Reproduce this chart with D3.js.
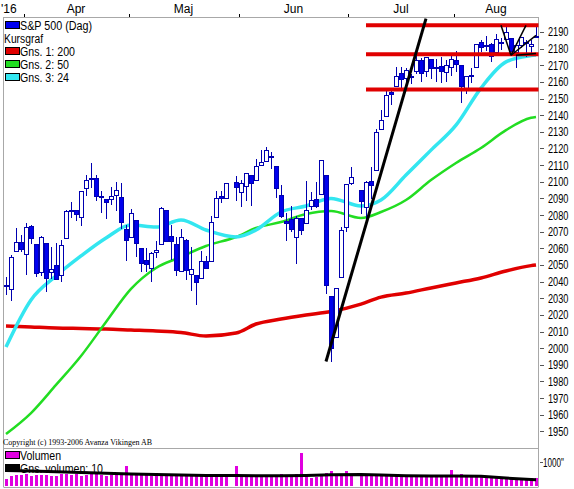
<!DOCTYPE html>
<html lang="sv">
<head>
<meta charset="UTF-8" />
<title>S&amp;P 500 (Dag)</title>
<script src="https://cdnjs.cloudflare.com/ajax/libs/d3/7.8.5/d3.min.js"></script>
<style>
  body { margin: 0; background: #fff; }
  svg text { font-family: "Liberation Sans", Arial, sans-serif; }
</style>
</head>
<body>
<svg width="574" height="489"></svg>
<script>
// daily candles, S&P 500, 2016
const dates = ['2016-03-28','2016-03-29','2016-03-30','2016-03-31',
  '2016-04-01','2016-04-04','2016-04-05','2016-04-06','2016-04-07','2016-04-08','2016-04-11','2016-04-12','2016-04-13','2016-04-14','2016-04-15',
  '2016-04-18','2016-04-19','2016-04-20','2016-04-21','2016-04-22','2016-04-25','2016-04-26','2016-04-27','2016-04-28','2016-04-29',
  '2016-05-02','2016-05-03','2016-05-04','2016-05-05','2016-05-06','2016-05-09','2016-05-10','2016-05-11','2016-05-12','2016-05-13',
  '2016-05-16','2016-05-17','2016-05-18','2016-05-19','2016-05-20','2016-05-23','2016-05-24','2016-05-25','2016-05-26','2016-05-27','2016-05-31',
  '2016-06-01','2016-06-02','2016-06-03','2016-06-06','2016-06-07','2016-06-08','2016-06-09','2016-06-10','2016-06-13','2016-06-14','2016-06-15',
  '2016-06-16','2016-06-17','2016-06-20','2016-06-21','2016-06-22','2016-06-23','2016-06-24','2016-06-27','2016-06-28','2016-06-29','2016-06-30',
  '2016-07-01','2016-07-05','2016-07-06','2016-07-07','2016-07-08','2016-07-11','2016-07-12','2016-07-13','2016-07-14','2016-07-15',
  '2016-07-18','2016-07-19','2016-07-20','2016-07-21','2016-07-22','2016-07-25','2016-07-26','2016-07-27','2016-07-28','2016-07-29',
  '2016-08-01','2016-08-02','2016-08-03','2016-08-04','2016-08-05','2016-08-08','2016-08-09','2016-08-10','2016-08-11','2016-08-12',
  '2016-08-15','2016-08-16','2016-08-17','2016-08-18','2016-08-19','2016-08-22','2016-08-23']
const open = [2037.9,2035.8,2058.3,2063.8,
  2056.6,2073.2,2062.5,2045.6,2063.0,2045.5,2050.2,2043.7,2065.9,2082.9,2083.1,
  2078.8,2096.1,2101.5,2102.1,2091.5,2089.4,2089.8,2092.3,2090.9,2071.8,
  2067.2,2077.2,2060.3,2053.0,2047.8,2057.6,2062.6,2083.3,2067.2,2062.5,
  2046.5,2065.0,2044.4,2044.2,2041.9,2052.2,2052.7,2078.9,2091.4,2090.1,2100.1,
  2093.9,2097.7,2104.1,2100.8,2110.2,2112.7,2115.7,2109.6,2091.8,2076.7,2077.6,
  2066.4,2078.2,2075.6,2085.2,2089.8,2092.8,2103.8,2031.5,2006.7,2042.7,2073.2,
  2099.3,2095.1,2084.4,2100.4,2107.0,2131.7,2139.5,2153.8,2157.9,2165.1,
  2162.0,2163.8,2166.1,2172.9,2166.5,2173.7,2169.0,2169.8,2166.1,2168.8,
  2173.2,2169.9,2156.8,2163.5,2168.8,2183.8,2182.2,2182.8,2178.0,2183.7,
  2186.1,2186.2,2177.8,2181.9,2184.2,2181.6,2187.8]
const high = [2042.7,2055.9,2072.2,2067.9,
  2075.1,2074.0,2062.5,2067.3,2063.0,2060.6,2062.9,2065.1,2083.2,2087.8,2083.2,
  2094.7,2104.1,2111.1,2103.8,2094.3,2089.4,2096.9,2099.9,2099.3,2073.9,
  2083.4,2077.2,2060.3,2060.2,2057.7,2064.2,2084.9,2083.3,2074.0,2066.8,
  2071.9,2065.7,2060.6,2044.2,2058.4,2055.6,2079.7,2094.7,2094.3,2099.1,2103.5,
  2101.0,2105.3,2104.1,2113.4,2119.2,2120.6,2117.6,2109.6,2098.1,2081.3,2085.7,
  2079.6,2078.2,2100.7,2093.7,2099.7,2113.3,2103.8,2031.5,2036.1,2073.1,2098.9,
  2108.7,2095.1,2100.7,2109.1,2131.7,2143.2,2155.4,2156.5,2169.0,2169.1,
  2168.4,2164.6,2175.6,2174.6,2175.1,2173.7,2173.5,2175.0,2172.9,2177.1,
  2178.3,2170.2,2163.8,2168.2,2182.9,2185.4,2187.7,2183.4,2188.5,2186.3,
  2193.8,2186.2,2183.1,2187.0,2185.0,2185.2,2193.4]
const low = [2032.0,2028.3,2058.3,2057.5,
  2044.0,2062.6,2042.6,2043.1,2033.8,2041.7,2041.9,2039.7,2065.9,2078.1,2076.3,
  2073.7,2091.7,2096.3,2088.5,2081.2,2077.5,2085.8,2082.3,2071.6,2052.3,
  2066.1,2054.9,2045.6,2045.8,2039.5,2054.3,2062.6,2064.5,2053.1,2043.1,
  2046.5,2040.8,2034.5,2025.9,2041.9,2047.3,2052.7,2078.9,2087.1,2090.1,2088.7,
  2085.1,2088.6,2085.4,2100.8,2110.2,2112.7,2107.7,2090.0,2078.5,2064.1,2069.8,
  2050.4,2068.1,2075.6,2083.0,2084.4,2092.8,2032.6,1991.7,2006.7,2042.7,2070.0,
  2097.9,2080.9,2074.0,2089.4,2107.0,2131.7,2139.5,2146.2,2157.9,2155.8,
  2159.1,2159.0,2164.9,2159.8,2163.2,2162.0,2160.2,2159.1,2159.7,2163.5,
  2166.2,2147.6,2153.0,2159.1,2168.8,2177.9,2178.6,2172.0,2178.0,2179.4,
  2186.1,2178.1,2168.5,2180.5,2175.1,2176.0,2186.8]
const close = [2037.1,2055.0,2064.0,2059.7,
  2072.8,2066.1,2045.2,2066.7,2041.9,2047.6,2042.0,2061.7,2082.4,2082.8,2080.7,
  2094.3,2100.8,2102.4,2091.5,2091.6,2087.8,2091.7,2095.2,2075.8,2065.3,
  2081.4,2063.4,2051.1,2050.6,2057.1,2058.7,2084.4,2064.5,2064.1,2046.6,
  2066.7,2047.2,2047.6,2040.0,2052.3,2048.0,2076.1,2090.5,2090.1,2099.1,2097.0,
  2099.3,2105.3,2099.1,2109.4,2112.1,2119.1,2115.5,2096.1,2079.1,2075.3,2071.5,
  2078.0,2071.2,2083.3,2088.9,2085.5,2113.3,2037.4,2000.5,2036.1,2070.8,2098.9,
  2103.0,2088.6,2099.7,2097.9,2129.9,2137.2,2152.1,2152.4,2163.8,2161.7,
  2166.9,2163.8,2173.0,2165.2,2175.0,2168.5,2169.2,2166.6,2170.1,2173.6,
  2170.8,2157.0,2163.8,2164.3,2182.9,2180.9,2181.7,2175.5,2185.8,2184.1,
  2190.2,2178.2,2182.2,2187.0,2183.9,2182.6,2186.9]
// volume, in the unit of the "1000" mark
const volume = [300,420,440,460,
  480,420,460,440,470,400,420,480,500,470,520,
  430,470,500,480,460,420,440,470,560,830,
  440,500,480,450,430,420,450,440,430,470,
  420,480,470,450,500,360,440,460,380,400,850,
  470,440,430,380,400,390,420,460,480,470,460,
  480,1375,460,350,380,420,560,620,470,450,640,
  420,420,430,400,420,410,430,410,400,400,
  380,360,420,430,420,380,400,430,450,650,
  430,480,400,380,430,380,370,390,400,360,
  330,340,300,300,340,320,330]

// moving averages (weekly points)
const maDates = ['2016-03-28','2016-04-04','2016-04-11','2016-04-18','2016-04-25','2016-05-02','2016-05-09','2016-05-16','2016-05-23','2016-05-31',
  '2016-06-06','2016-06-13','2016-06-20','2016-06-27','2016-07-05','2016-07-11','2016-07-18','2016-07-25','2016-08-01','2016-08-08',
  '2016-08-15','2016-08-22','2016-08-23']
const ma200 = [2013.3,2012.7,2012.1,2011.8,2011.5,2010.9,2010.3,2009.4,2007.3,2009.1,
  2014.5,2017.5,2019.9,2022.0,2026.5,2030.7,2033.1,2036.2,2039.2,2042.2,
  2046.4,2049.6,2050.0]
const ma50 = [1948.4,1961.0,1977.9,1995.3,2015.7,2035.6,2048.2,2054.8,2061.4,2066.8,
  2072.2,2075.8,2080.6,2082.4,2078.2,2081.8,2089.0,2101.0,2111.3,2120.3,
  2131.0,2138.4,2138.9]
const ma24 = [2000.7,2029.0,2043.4,2055.4,2066.2,2074.0,2072.8,2077.0,2071.0,2066.8,
  2071.0,2081.8,2085.4,2090.0,2085.4,2089.0,2104.0,2119.0,2134.0,2156.3,
  2172.0,2175.8,2176.2]
const maVol = [650,620,590,560,530,500,480,460,440,440,
  430,430,440,470,480,460,430,420,420,410,
  330,270,260]

// lines drawn on the chart: [date, value] pairs
const levels = [2194, 2176.6, 2155.4]
const levelFrom = '2016-07-06'
const trendLines = [
  [['2016-06-24', 1992], ['2016-07-22', 2198]],
  [['2016-08-12', 2194], ['2016-08-16', 2176]],
  [['2016-08-16', 2176], ['2016-08-19', 2194]],
  [['2016-08-16', 2176], ['2016-08-23', 2188]],
  [['2016-08-17', 2176], ['2016-08-23', 2177]]
]

const months = [['2016-04-01','Apr'],['2016-05-02','Maj'],['2016-06-01','Jun'],['2016-07-01','Jul'],['2016-08-01','Aug']]
const yTicks = d3.range(1950, 2191, 10)

const svg = d3.select('svg')
const parse = d3.timeParse('%Y-%m-%d')
const t0 = parse(dates[0])
// position = weekday count since first day (holidays keep their slot)
function slot(s) {
  const n = d3.timeDay.count(t0, parse(s))
  return Math.floor(n / 7) * 5 + (n % 7)
}

const left = 3.5, right = 538.5
const x = d3.scaleLinear().domain([-0.5, 106.5]).range([left, right])
const y = d3.scaleLinear().domain([1940, 2199]).range([448, 17])
const yv = d3.scaleLinear().domain([0, 1000]).range([486, 462])

const candles = dates.map((d, i) => ({ i: slot(d), o: open[i], h: high[i], l: low[i], c: close[i], v: volume[i] }))

// frame
const grey = '#a8a8a8'
svg.append('line').attr('x1', left).attr('x2', left).attr('y1', 17).attr('y2', 487).attr('stroke', grey)
svg.append('line').attr('x1', right).attr('x2', right).attr('y1', 17).attr('y2', 487).attr('stroke', grey)
svg.append('line').attr('x1', left).attr('x2', right).attr('y1', 17.5).attr('y2', 17.5).attr('stroke', grey)
svg.append('line').attr('x1', left).attr('x2', right).attr('y1', 448.5).attr('y2', 448.5).attr('stroke', grey)
svg.append('line').attr('x1', left).attr('x2', right).attr('y1', 487.5).attr('y2', 487.5).attr('stroke', grey)

// month axis on top
svg.append('text').attr('x', 1).attr('y', 13).style('font-size', '12px').text("'16")
const mPos = months.map(m => slot(m[0]) - 0.5)
mPos.forEach((p, k) => {
  svg.append('line').attr('x1', Math.round(x(p)) + 0.5).attr('x2', Math.round(x(p)) + 0.5)
    .attr('y1', 14).attr('y2', 17).attr('stroke', '#000')
  const nxt = k < mPos.length - 1 ? mPos[k + 1] : 106.5
  svg.append('text').attr('x', x((p + nxt) / 2)).attr('y', 13).attr('text-anchor', 'middle')
    .style('font-size', '12px').text(months[k][1])
})

// right axis
const axis = svg.append('g')
axis.selectAll('line').data(yTicks).join('line')
  .attr('x1', 540).attr('x2', 544)
  .attr('y1', d => Math.round(y(d)) + 0.5).attr('y2', d => Math.round(y(d)) + 0.5)
  .attr('stroke', '#555')
axis.selectAll('text').data(yTicks).join('text')
  .attr('x', 548).attr('y', d => y(d) + 4.5)
  .attr('textLength', 20.5).attr('lengthAdjust', 'spacingAndGlyphs')
  .style('font-size', '12px').text(d => d)
svg.append('line').attr('x1', 540).attr('x2', 543).attr('y1', 462.5).attr('y2', 462.5).attr('stroke', '#555')
svg.append('text').attr('x', 543).attr('y', 467)
  .attr('textLength', 21).attr('lengthAdjust', 'spacingAndGlyphs')
  .style('font-size', '12px').text('1000"')

const plot = svg.append('g')
svg.append('clipPath').attr('id', 'clip').append('rect').attr('x', 4).attr('y', 18).attr('width', 534).attr('height', 430)

// moving averages
const maPts = arr => maDates.map((d, k) => [x(slot(d)), y(arr[k])])
const line = d3.line().curve(d3.curveMonotoneX)
plot.append('path').attr('d', line(maPts(ma200))).attr('fill', 'none').attr('stroke', '#e00000').attr('stroke-width', 3.5).attr('clip-path', 'url(#clip)')
plot.append('path').attr('d', line(maPts(ma50))).attr('fill', 'none').attr('stroke', '#22dd22').attr('stroke-width', 2.5).attr('clip-path', 'url(#clip)')
plot.append('path').attr('d', line(maPts(ma24))).attr('fill', 'none').attr('stroke', '#33e6f0').attr('stroke-width', 3.5).attr('clip-path', 'url(#clip)')

// candles
const cg = plot.append('g').attr('shape-rendering', 'crispEdges')
const cx = d => Math.round(x(d.i))
cg.selectAll('line').data(candles).join('line')
  .attr('x1', d => cx(d) + 0.5).attr('x2', d => cx(d) + 0.5)
  .attr('y1', d => y(d.h)).attr('y2', d => y(d.l))
  .attr('stroke', '#0000b0')
cg.selectAll('rect').data(candles).join('rect')
  .attr('x', d => cx(d) - 1.5).attr('width', 4)
  .attr('y', d => Math.round(y(Math.max(d.o, d.c))) + 0.5)
  .attr('height', d => Math.max(1, Math.round(y(Math.min(d.o, d.c)) - y(Math.max(d.o, d.c)))))
  .attr('fill', d => d.c < d.o ? '#0000ee' : '#fff')
  .attr('stroke', '#0000b0')

// level lines and trend lines
plot.selectAll('.lvl').data(levels).join('line').attr('class', 'lvl')
  .attr('x1', x(slot(levelFrom))).attr('x2', right)
  .attr('y1', d => y(d)).attr('y2', d => y(d))
  .attr('stroke', '#e00000').attr('stroke-width', 4)
plot.selectAll('.trend').data(trendLines).join('line').attr('class', 'trend')
  .attr('x1', d => x(slot(d[0][0]))).attr('y1', d => y(d[0][1]))
  .attr('x2', d => x(slot(d[1][0]))).attr('y2', d => y(d[1][1]))
  .attr('stroke', '#000').attr('stroke-width', (d, k) => k ? 1.5 : 3)
  .attr('clip-path', 'url(#clip)')

// legend: label, swatch colour, text width in the original
const legend = [['S&P 500 (Dag)', '#0000ee', 72], ['Kursgraf', null, 39], ['Gns. 1: 200', '#e00000', 55], ['Gns. 2: 50', '#22dd22', 49], ['Gns. 3: 24', '#33e6f0', 49]]
legend.forEach((it, k) => {
  const ly = 25 + k * 13
  if (it[1]) svg.append('rect').attr('x', 5.5).attr('y', ly - 3.5).attr('width', 14).attr('height', 7)
    .attr('fill', it[1]).attr('stroke', '#000')
  svg.append('text').attr('x', it[1] ? 20 : 4).attr('y', ly + 4.5).style('font-size', '12px')
    .attr('textLength', it[2]).attr('lengthAdjust', 'spacingAndGlyphs').text(it[0])
})

svg.append('text').attr('x', 3).attr('y', 445).style('font-family', '"Liberation Serif", serif')
  .style('font-size', '8px').text('Copyright (c) 1993-2006 Avanza Vikingen AB')

// volume panel
const vg = svg.append('g').attr('shape-rendering', 'crispEdges')
vg.selectAll('rect').data(candles).join('rect')
  .attr('x', d => cx(d) - 1).attr('width', 3)
  .attr('y', d => Math.round(yv(d.v))).attr('height', d => 486 - Math.round(yv(d.v)))
  .attr('fill', '#e000e0')
svg.append('path').attr('d', d3.line()(maDates.map((d, k) => [x(slot(d)), yv(maVol[k])])))
  .attr('fill', 'none').attr('stroke', '#000').attr('stroke-width', 3)
const vleg = [['Volumen', '#e000e0', 41], ['Gns. volumen: 10', '#000', 83]]
vleg.forEach((it, k) => {
  const ly = 455 + k * 13
  svg.append('rect').attr('x', 5.5).attr('y', ly - 3.5).attr('width', 14).attr('height', 7)
    .attr('fill', it[1]).attr('stroke', '#000')
  svg.append('text').attr('x', 20).attr('y', ly + 4.5).style('font-size', '12px')
    .attr('textLength', it[2]).attr('lengthAdjust', 'spacingAndGlyphs').text(it[0])
})
</script>
</body>
</html>
